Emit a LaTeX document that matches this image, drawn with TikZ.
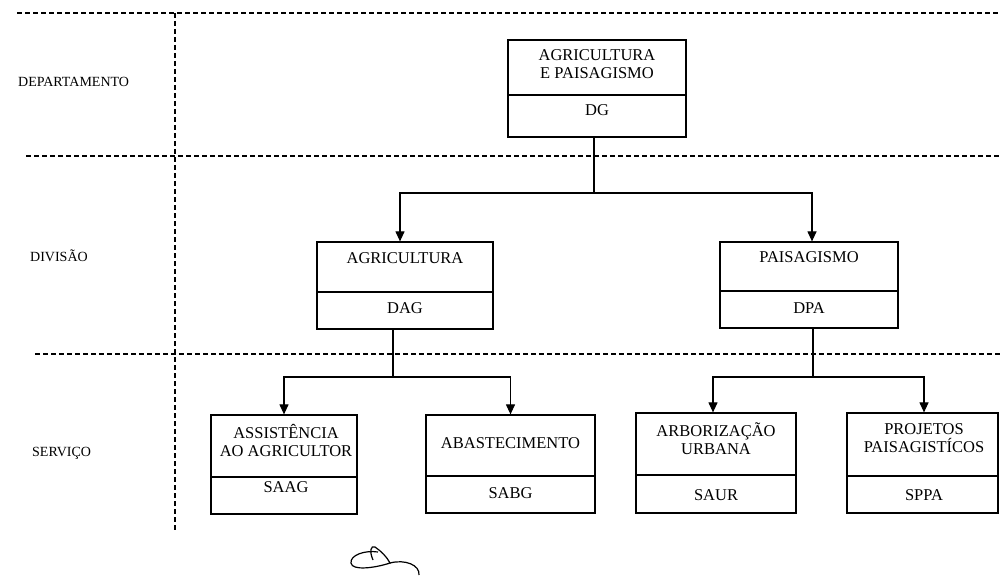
\documentclass[tikz,border=0pt]{standalone}
\usepackage{fontspec}
\setmainfont{Liberation Serif}
\usetikzlibrary{arrows.meta}
\tikzset{
  box/.style={draw, line width=1.2pt, rectangle, inner sep=0pt},
  txt/.style={inner sep=0pt, align=center, font=\fontsize{16.5}{18}\selectfont},
  lvl/.style={inner sep=0pt, anchor=west, font=\fontsize{14}{16}\selectfont},
  grid/.style={line width=1.1pt, dash pattern=on 5pt off 3pt},
  conn/.style={line width=1.1pt},
  arr/.style={line width=1.1pt, -{Triangle[width=9pt,length=10pt]}},
  divline/.style={line width=1.2pt}
}
\begin{document}
\begin{tikzpicture}[x=1pt,y=-1pt]
\useasboundingbox (0,0) rectangle (1000,580);
% grid lines
\coordinate (g1a) at (17,13);  \coordinate (g1b) at (1000,13);
\coordinate (g2a) at (26,156); \coordinate (g2b) at (1000,156);
\coordinate (g3a) at (35,354); \coordinate (g3b) at (1000,354);
\coordinate (gva) at (175,13); \coordinate (gvb) at (175,530);
\draw[grid] (g1a) -- (g1b);
\draw[grid] (g2a) -- (g2b);
\draw[grid] (g3a) -- (g3b);
\draw[grid] (gva) -- (gvb);
% level labels
\node[lvl] (ldep) at (18,82) {DEPARTAMENTO};
\node[lvl] (ldiv) at (30,256) {DIVISÃO};
\node[lvl] (lser) at (32,453) {SERVIÇO};
% boxes
\node[box, minimum width=178, minimum height=97] (dg) at (597,88.5) {};
\draw[divline] (dg.west |- 0,95) -- (dg.east |- 0,95);
\node[txt] (dgt) at (597,64) {AGRICULTURA\\E PAISAGISMO};
\node[txt] (dgc) at (597,110) {DG};

\node[box, minimum width=176, minimum height=87] (dag) at (405,285.5) {};
\draw[divline] (dag.west |- 0,292) -- (dag.east |- 0,292);
\node[txt] (dagt) at (405,258) {AGRICULTURA};
\node[txt] (dagc) at (405,308) {DAG};

\node[box, minimum width=178, minimum height=86] (dpa) at (809,285) {};
\draw[divline] (dpa.west |- 0,291) -- (dpa.east |- 0,291);
\node[txt] (dpat) at (809,257) {PAISAGISMO};
\node[txt] (dpac) at (809,308) {DPA};

\node[box, minimum width=146, minimum height=99] (saag) at (284,464.5) {};
\draw[divline] (saag.west |- 0,477) -- (saag.east |- 0,477);
\node[txt] (saagt) at (286,440.5) {ASSISTÊNCIA\\AO AGRICULTOR};
\node[txt] (saagc) at (286,487) {SAAG};

\node[box, minimum width=169, minimum height=98] (sabg) at (510.5,464) {};
\draw[divline] (sabg.west |- 0,476) -- (sabg.east |- 0,476);
\node[txt] (sabgt) at (510.5,443) {ABASTECIMENTO};
\node[txt] (sabgc) at (510.5,493) {SABG};

\node[box, minimum width=160, minimum height=100] (saur) at (716,463) {};
\draw[divline] (saur.west |- 0,475) -- (saur.east |- 0,475);
\node[txt] (saurt) at (716,439) {ARBORIZAÇÃO\\URBANA};
\node[txt] (saurc) at (716,495) {SAUR};

\node[box, minimum width=151, minimum height=100] (sppa) at (922.5,463) {};
\draw[divline] (sppa.west |- 0,476) -- (sppa.east |- 0,476);
\node[txt] (sppat) at (924,438.5) {PROJETOS\\PAISAGISTÍCOS};
\node[txt] (sppac) at (924,495) {SPPA};

% connectors
\coordinate (j1) at (594,193);
\coordinate (j2) at (393,377);
\coordinate (j3) at (813,377);
\draw[conn] (dg.south -| j1) -- (j1);
\draw[arr] (j1) -| ([xshift=-5]dag.north);
\draw[arr] (j1) -| ([xshift=3]dpa.north);
\draw[conn] (dag.south -| j2) -- (j2);
\draw[arr] (j2) -| (saag.north);
\draw[arr] (j2) -| (sabg.north);
\draw[conn] (dpa.south -| j3) -- (j3);
\draw[arr] (j3) -| ([xshift=-3]saur.north);
\draw[arr] (j3) -| ([xshift=1.5]sppa.north);
% signature
\draw[line width=1.2pt] (373,560) .. controls (369,551) and (371,545) .. (375,547)
  .. controls (381,551) and (387,557) .. (390,563)
  .. controls (375,568) and (352,571) .. (351,563)
  .. controls (350,555) and (365,550) .. (378,552);
\draw[line width=1.2pt] (390,563) .. controls (405,559) and (420,565) .. (419,575);
\end{tikzpicture}
\end{document}
